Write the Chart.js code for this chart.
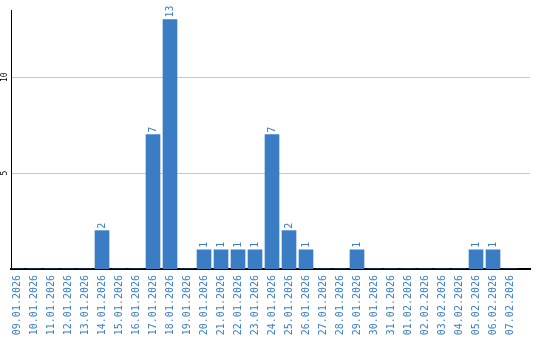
<!DOCTYPE html>
<html>
<head>
<meta charset="utf-8">
<script src="https://cdn.jsdelivr.net/npm/chart.js@4/dist/chart.umd.min.js"></script>
<style>html,body{margin:0;padding:0;background:#fff}canvas{display:block}</style>
</head>
<body>
<canvas id="c" width="540" height="340"></canvas>
<script>
const categories = ["09.01.2026","10.01.2026","11.01.2026","12.01.2026","13.01.2026","14.01.2026","15.01.2026","16.01.2026","17.01.2026","18.01.2026","19.01.2026","20.01.2026","21.01.2026","22.01.2026","23.01.2026","24.01.2026","25.01.2026","26.01.2026","27.01.2026","28.01.2026","29.01.2026","30.01.2026","31.01.2026","01.02.2026","02.02.2026","03.02.2026","04.02.2026","05.02.2026","06.02.2026","07.02.2026"];
const values = [0,0,0,0,0,2,0,0,7,13,0,1,1,1,1,7,2,1,0,0,1,0,0,0,0,0,0,1,1,0];
const yTicks = [5,10];

const BLUE = '#3a7dc4';
const MONO = "'DejaVu Sans Mono', 'Liberation Mono', monospace";

const labelPlugin = {
  id: 'labels',
  afterDraw(chart) {
    const ctx = chart.ctx;
    const ys = chart.scales.y;
    ctx.save();
    ctx.fillStyle = '#000';
    ctx.font = '8px ' + MONO;
    ctx.textAlign = 'center';
    ctx.textBaseline = 'middle';
    ys.ticks.forEach(t => {
      const py = ys.getPixelForValue(t.value);
      ctx.save();
      ctx.translate(5, py);
      ctx.rotate(-Math.PI / 2);
      ctx.fillText(String(t.value), 0, 0);
      ctx.restore();
    });
    ctx.restore();
    const meta = chart.getDatasetMeta(0);
    ctx.save();
    ctx.fillStyle = BLUE;
    ctx.font = '10px ' + MONO;
    ctx.textAlign = 'left';
    ctx.textBaseline = 'middle';
    meta.data.forEach((bar, i) => {
      const v = values[i];
      if (!v) return;
      ctx.save();
      ctx.translate(bar.x, bar.y - 2);
      ctx.rotate(-Math.PI / 2);
      ctx.fillText(String(v), 0, 0);
      ctx.restore();
    });
    ctx.restore();
  }
};

new Chart(document.getElementById('c'), {
  type: 'bar',
  data: {
    datasets: [{
      data: values.map((v, i) => ({x: i, y: v})),
      backgroundColor: BLUE,
      borderWidth: 0,
      barThickness: 14
    }]
  },
  options: {
    responsive: false,
    animation: false,
    events: [],
    layout: {padding: {top: 10, right: 10, left: 0, bottom: 0}},
    plugins: {legend: {display: false}, tooltip: {enabled: false}},
    scales: {
      x: {
        type: 'linear',
        offset: false,
        min: -0.353,
        max: 30.176,
        afterBuildTicks(s) { s.ticks = categories.map((c, i) => ({value: i})); },
        afterFit(s) { s.height = 71; },
        grid: {display: false, drawTicks: false},
        border: {display: true, color: '#000', width: 2},
        ticks: {
          autoSkip: false,
          minRotation: 90,
          maxRotation: 90,
          padding: 6,
          color: BLUE,
          font: {family: MONO, size: 10},
          callback: (v) => categories[v]
        }
      },
      y: {
        min: 0,
        max: 13.5,
        afterBuildTicks(s) { s.ticks = yTicks.map(v => ({value: v})); },
        afterFit(s) { s.width = 11; },
        grid: {color: '#c8c8c8', lineWidth: 1, drawTicks: false},
        border: {display: true, color: '#000', width: 1},
        ticks: {display: false}
      }
    }
  },
  plugins: [labelPlugin]
});
</script>
</body>
</html>
